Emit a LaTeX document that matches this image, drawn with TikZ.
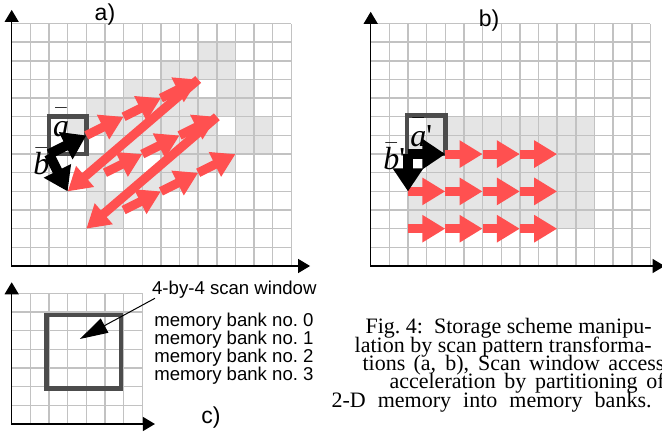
\documentclass[tikz,border=0pt]{standalone}
\usepackage{fontspec}
\setmainfont{Liberation Serif}
\setsansfont{Liberation Sans}
\usetikzlibrary{arrows.meta}

\definecolor{scanred}{RGB}{255,80,80}

\begin{document}
\begin{tikzpicture}[
  x=9.325pt, y=9.325pt,
  gridline/.style={draw=black!24, line width=0.7pt, step=1},
  cellfill/.style={fill=black!10},
  axisline/.style={line width=0.6pt, {Triangle[length=6pt, width=7pt]}-{Triangle[length=6pt, width=7pt]}},
  scanwin/.style={draw=black!70, line width=2.4pt},
  scanarrow/.style={draw=scanred, line width=4.5pt, -{Triangle[length=11.5pt, width=13pt]}},
  basisarrow/.style={draw=black, line width=5pt, -{Triangle[length=11.5pt, width=14.5pt]}},
  veclabel/.style={font=\fontsize{16}{16}\selectfont, inner sep=0pt, anchor=base west},
  panellabel/.style={font=\sffamily\fontsize{11.5}{12}\selectfont, inner sep=0pt},
  banklabel/.style={font=\sffamily\fontsize{9.3}{9}\selectfont, inner sep=0pt, anchor=base west},
  labelarrow/.style={line width=0.5pt, -{Triangle[length=14pt, width=8pt]}},
  captext/.style={font=\fontsize{11}{9.18}\selectfont, inner sep=0pt, align=right}
]
\useasboundingbox (-0.627,-9.062) rectangle (34.869,14.263);
\lineskiplimit=-20pt

% a) -- scan pattern along a-bar = (2,1), b-bar = (1,-2)
\foreach \j/\cols in {11/{10,11}, 10/{8,9,10,11}, 9/{6,7,8,9,11,12},
    8/{4,5,6,7,8,9,10,11,12}, 7/{3,4,5,6,7,8,9,10,12,13},
    6/{5,6,7,8,9,10,11,12,13}, 5/{4,5,6,8,9,10,11}, 4/{4,6,7,8,9},
    3/{4,5,6,7}, 2/{4,5}} {
  \foreach \i in \cols
    \fill[cellfill] (\i,\j) rectangle ++(1,1);
}
\draw[gridline] (0,0) grid (15,13);
\draw[axisline] (0,13.73) |- (16,0);
\draw[scanwin] (2,6) rectangle (4,8);
% forward steps, then the return sweeps
\foreach \r in {0,1,2} {
  \foreach \k in {1,...,3}
    \draw[scanarrow] ({2+\r+2*\k},{6-2*\r+\k}) -- ++(2,1);
}
\foreach \r in {0,1}
  \draw[scanarrow] ({10+\r},{10-2*\r}) -- ({3+\r},{4-2*\r});
\draw[basisarrow] (2,6) -- (4,7);
\draw[basisarrow] (2,6) -- (3,4);
\node[veclabel] (abar) at (2.2,6.93) {$\bar{\vphantom{b}\textit{a}}$};
\node[veclabel] (bbar) at (1.14,4.88) {$\bar{\textit{b}}$};
\node[panellabel] (lbla) at (5.0,13.49) {a)};

% b) -- same image, scanned along rows
\begin{scope}[shift={(19.249,0)}]
\fill[cellfill] (2,2) rectangle (12,5) (3,5) rectangle (12,6)
  (2,6) rectangle (12,7) (3,7) rectangle (12,8);
\draw[gridline] (0,0) grid (15,13);
\draw[axisline] (0,13.63) |- (15.76,0);
\draw[scanwin] (1.95,6) rectangle (4,8.05);
\foreach \r/\kfirst in {0/1, 1/0, 2/0} {
  \foreach \k in {\kfirst,...,3}
    \draw[scanarrow] ({2+2*\k},{6-2*\r}) -- ++(2,0);
}
\draw[basisarrow] (2,6) -- (4,6);
\draw[basisarrow] (2,6) -- (2,4);
\node[veclabel] (aprime) at (2.1,6.40) {$\bar{\vphantom{b}\textit{a}}$\textquotesingle};
\node[veclabel] (bprime) at (0.66,5.15) {$\bar{\textit{b}}$\textquotesingle};
\node[panellabel] (lblb) at (6.35,13.15) {b)};
\end{scope}

% c) -- scan window over the memory banks
\begin{scope}[shift={(0,-8.472)}]
\draw[gridline] (0,0) grid (7,7);
\draw[axisline] (0,7.6) |- (7.68,0);
\draw[scanwin] (1.88,1.9) rectangle (5.86,5.84);
\coordinate (wincenter) at (3.66,4.56);
\node[banklabel] (scanlbl) at (7.51,6.95) {4-by-4 scan window};
\draw[labelarrow] ([shift={(0.17,-0.21)}]scanlbl.base west) -- (wincenter);
\foreach \k in {0,...,3}
  \node[banklabel] (bank\k) at (7.63,{5.23-0.97*\k}) {memory bank no.\ \k};
\node[panellabel] (lblc) at (10.69,0.35) {c)};
\end{scope}

% caption
\node[captext, anchor=north east] (caption) at (34.33,-2.80)
  {Fig.\ 4:\ \ Storage scheme manipu-\\
   lation by scan pattern transforma-\\
   \makebox[151pt][s]{tions (a, b), Scan window access}\kern-6.5pt\\
   \makebox[137.5pt][s]{acceleration by partitioning of}\kern-6.5pt\\
   \makebox[160pt][s]{2-D memory into memory banks.}};

\end{tikzpicture}
\end{document}
